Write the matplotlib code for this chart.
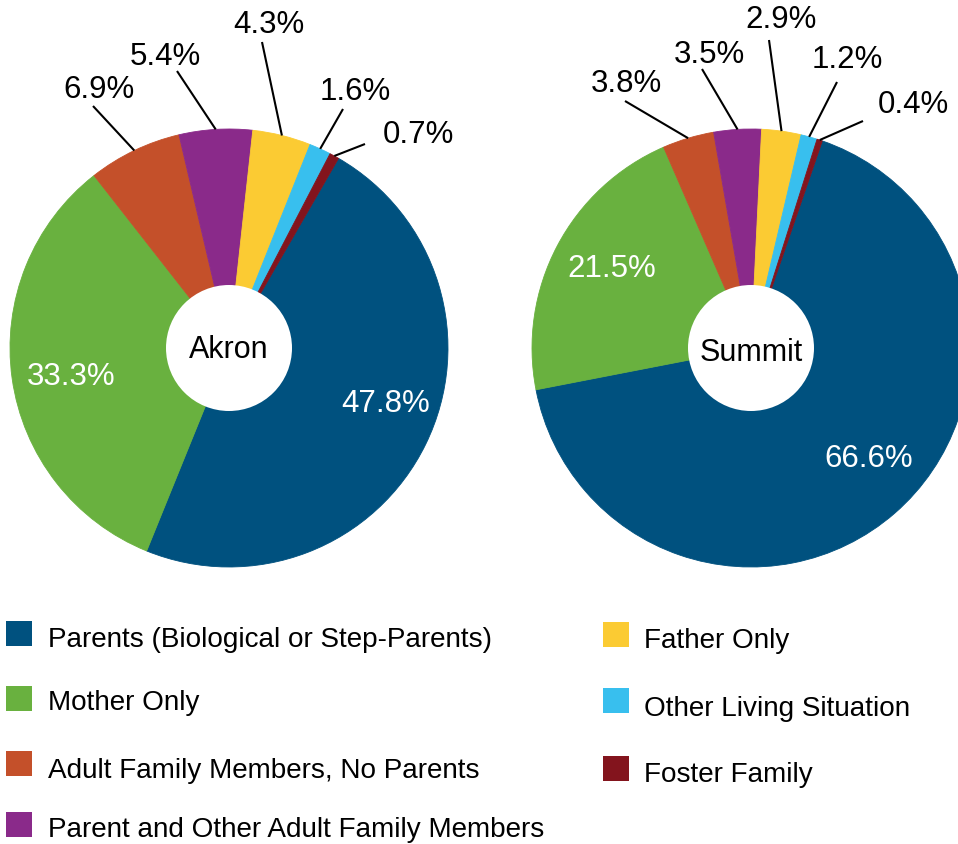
import numpy as np
import matplotlib
matplotlib.use("Agg")
import matplotlib.pyplot as plt
from matplotlib.patches import Circle, Rectangle

plt.rcParams['font.family'] = ['Liberation Sans', 'DejaVu Sans']

# ---------------- data ----------------
categories = [
    "Parents (Biological or Step-Parents)",
    "Mother Only",
    "Adult Family Members, No Parents",
    "Parent and Other Adult Family Members",
    "Father Only",
    "Other Living Situation",
    "Foster Family",
]
colors = ["#00517F", "#69B13F", "#C4502A", "#8A2A8A", "#FBCB33", "#38BFEE", "#83141D"]
akron_values = [47.8, 33.3, 6.9, 5.4, 4.3, 1.6, 0.7]
summit_values = [66.6, 21.5, 3.8, 3.5, 2.9, 1.2, 0.4]
pie_titles = ["Akron", "Summit"]

# ---------------- layout (image pixel coords, y down) ----------------
W, H = 958, 845
def Y(y):
    return H - y

pies = [
    dict(values=akron_values, title=pie_titles[0], center=(229, 349), radius=219,
         hole=63, start=60, title_base=358,
         inner=[(386, 412), (71, 385)],
         outer=[(99, 98, 93, 107), (165, 65, 177, 72), (269, 33, 262, 43),
                (355, 100, 343, 110), (None, 143, 365, 145)],
         outer_left=[None, None, None, None, 383]),
    dict(values=summit_values, title=pie_titles[1], center=(751, 349), radius=219,
         hole=63, start=71, title_base=361,
         inner=[(869, 467), (612, 277)],
         outer=[(626, 92, 625, 102), (709, 63, 702, 70), (781, 28, 769, 41),
                (847, 68, 837, 83), (None, 113, 863, 122)],
         outer_left=[None, None, None, None, 878]),
]

fig = plt.figure(figsize=(W / 100, H / 100), dpi=100)
ax = fig.add_axes([0, 0, 1, 1])

LABEL_FS = 22.5
for p in pies:
    cx, cy = p["center"]
    wedges, _ = ax.pie(p["values"], colors=colors, startangle=p["start"],
                       counterclock=False, radius=p["radius"],
                       center=(cx, Y(cy)), frame=True,
                       wedgeprops=dict(linewidth=0.6))
    for w, c in zip(wedges, colors):
        w.set_edgecolor(c)
    # hole
    ax.add_patch(Circle((cx, Y(cy)), p["hole"], facecolor="white",
                        edgecolor="none", zorder=3))
    ax.text(cx, Y(p["title_base"]), p["title"], ha="center", va="baseline",
            fontsize=22, color="black", zorder=4)
    vals = p["values"]
    # inner labels (first two slices)
    for i, (tx, tb) in enumerate(p["inner"]):
        ax.text(tx, Y(tb), f"{vals[i]:.1f}%", ha="center", va="baseline",
                fontsize=LABEL_FS, color="white", zorder=4)
    # outer labels with leader lines
    for j, (tx, tb, lx, ly) in enumerate(p["outer"]):
        i = j + 2
        w = wedges[i]
        mid = np.deg2rad((w.theta1 + w.theta2) / 2)
        px = cx + p["radius"] * np.cos(mid)
        py = Y(cy) + p["radius"] * np.sin(mid)
        ax.plot([lx, px], [Y(ly), py], color="black", lw=1.5,
                solid_capstyle="butt", zorder=5)
        if tx is None:
            ax.text(p["outer_left"][j], Y(tb), f"{vals[i]:.1f}%", ha="left",
                    va="baseline", fontsize=LABEL_FS, color="black")
        else:
            ax.text(tx, Y(tb), f"{vals[i]:.1f}%", ha="center",
                    va="baseline", fontsize=LABEL_FS, color="black")

# ---------------- legend ----------------
legend_pos = [  # (square_x, square_top, text_x, text_baseline)
    (6, 622, 48, 647),
    (6, 687, 48, 710),
    (6, 752, 48, 778),
    (6, 813, 48, 837),
    (603, 623, 644, 648),
    (603, 689, 644, 716),
    (603, 757, 644, 782),
]
SQ = 26
for cat, col, (sx, st, tx, tb) in zip(categories, colors, legend_pos):
    ax.add_patch(Rectangle((sx, Y(st + 25)), SQ, 25, facecolor=col,
                           edgecolor="none"))
    ax.text(tx, Y(tb), cat, ha="left", va="baseline", fontsize=20.1,
            color="black")

ax.set_xlim(0, W)
ax.set_ylim(0, H)
ax.set_aspect("equal")
ax.axis("off")

fig.savefig("out.png", dpi=100, facecolor="white")
